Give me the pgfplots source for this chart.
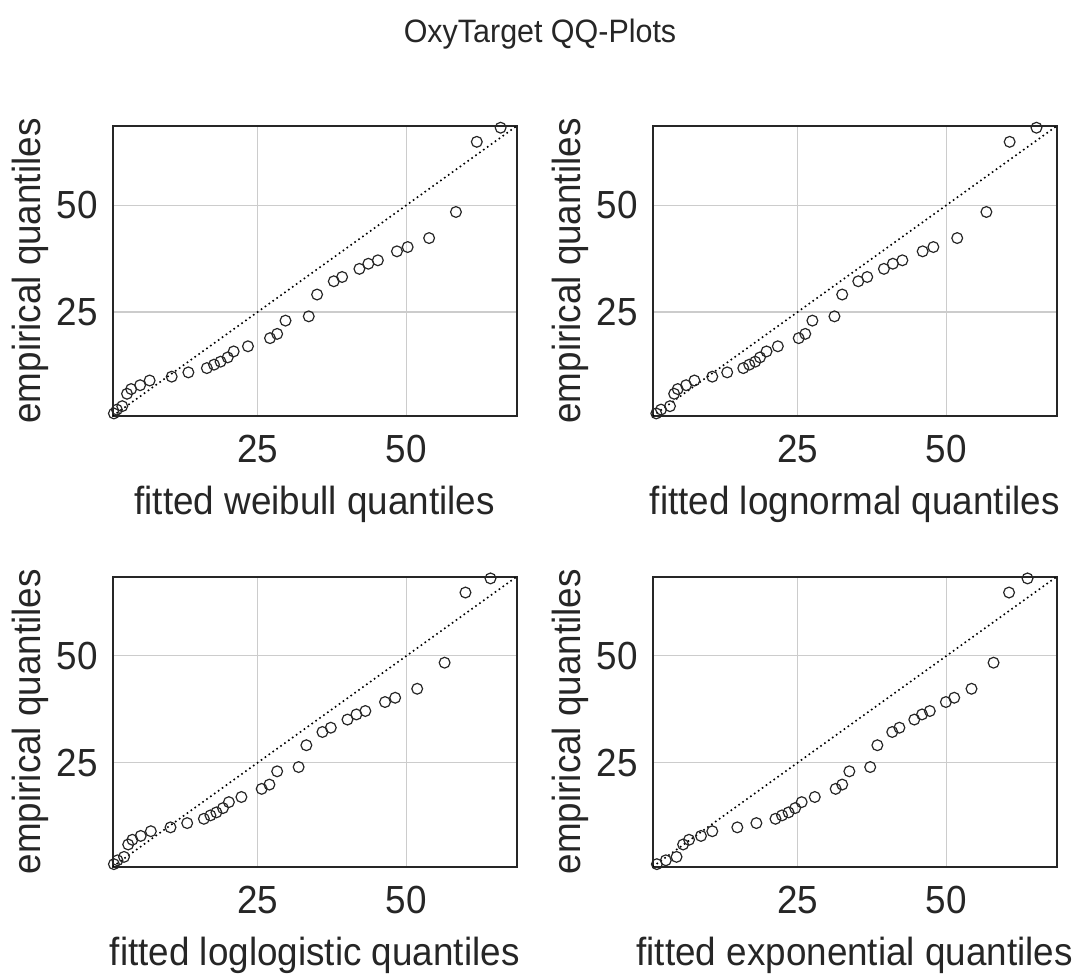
\documentclass[border=0pt]{standalone}
\usepackage{pgfplots}
\pgfplotsset{compat=1.18}
\usepackage{fontspec}
\setmainfont{Liberation Sans}[FakeStretch=0.94]
\definecolor{txt}{HTML}{262626}
\definecolor{grd}{HTML}{CCCCCC}
\pgfplotsset{qq/.style={
  scale only axis, width=202pt, height=145pt,
  xmin=0.7, xmax=68.5, ymin=0.7, ymax=68.5,
  xtick={25,50}, ytick={25,50},
  major tick length=0pt,
  grid=major, major grid style={grd, line width=0.6pt},
  axis line style={txt, line width=1.2pt},
  tick label style={font=\fontsize{19.6}{21}\selectfont, text=txt},
  label style={font=\fontsize{19.6}{21}\selectfont, text=txt},
  /pgf/number format/assume math mode=true,
  xticklabel style={yshift=-6pt},
  yticklabel style={xshift=-4pt},
  xlabel style={at={(axis description cs:0.5,-0.306)}, anchor=center},
  ylabel style={at={(axis description cs:-0.205,0.5)}, anchor=center},
  ylabel={empirical quantiles},
  anchor=south west,
},
pts/.style={only marks, mark=o, mark size=2.7pt, mark options={line width=0.6pt, draw=txt}},
ref/.style={no marks, black, line width=0.8pt, dash pattern=on 0.8pt off 1.6pt}
}
\pgfplotstableread{
x y
0.9 1.3
1.4 2.2
2.3 3.0
3.1 5.9
3.8 7.0
5.3 7.9
6.9 9.0
10.6 9.9
13.4 10.9
16.5 11.9
17.7 12.7
18.8 13.4
20.0 14.4
21.0 15.8
23.4 17.0
27.1 18.9
28.3 19.9
29.7 23.0
33.6 24.0
35.0 29.1
37.8 32.2
39.2 33.2
42.1 35.1
43.6 36.3
45.2 37.1
48.4 39.2
50.2 40.2
53.8 42.3
58.3 48.4
61.8 64.8
65.8 68.1
}\weib
\pgfplotstableread{
x y
1.3 1.3
2.1 2.2
3.6 3.0
4.3 5.9
4.9 7.0
6.3 7.9
7.7 9.0
10.7 9.9
13.2 10.9
15.9 11.9
16.9 12.7
17.9 13.4
18.7 14.4
19.8 15.8
21.7 17.0
25.2 18.9
26.3 19.9
27.5 23.0
31.2 24.0
32.5 29.1
35.2 32.2
36.7 33.2
39.5 35.1
41.0 36.3
42.6 37.1
46.0 39.2
47.8 40.2
51.8 42.3
56.7 48.4
60.6 64.8
65.1 68.1
}\lognorm
\pgfplotstableread{
x y
0.9 1.3
1.5 2.2
2.6 3.0
3.3 5.9
4.0 7.0
5.4 7.9
7.1 9.0
10.4 9.9
13.2 10.9
16.0 11.9
17.1 12.7
18.1 13.4
19.2 14.4
20.2 15.8
22.3 17.0
25.7 18.9
27.0 19.9
28.3 23.0
31.9 24.0
33.2 29.1
35.9 32.2
37.3 33.2
40.1 35.1
41.6 36.3
43.1 37.1
46.4 39.2
48.1 40.2
51.8 42.3
56.4 48.4
59.9 64.8
64.1 68.1
}\loglog
\pgfplotstableread{
x y
1.4 1.3
2.9 2.2
4.7 3.0
5.8 5.9
6.8 7.0
8.8 7.9
10.7 9.0
14.9 9.9
18.1 10.9
21.3 11.9
22.4 12.7
23.5 13.4
24.6 14.4
25.7 15.8
27.9 17.0
31.4 18.9
32.5 19.9
33.7 23.0
37.2 24.0
38.4 29.1
40.9 32.2
42.1 33.2
44.6 35.1
45.9 36.3
47.2 37.1
49.9 39.2
51.3 40.2
54.2 42.3
57.9 48.4
60.5 64.8
63.6 68.1
}\expo
\begin{document}
\begin{tikzpicture}
\useasboundingbox (0pt,0pt) rectangle (540pt,-487.5pt);
\node[font=\fontsize{16.2}{18}\selectfont, text=txt] at (270pt,-17pt) {OxyTarget QQ-Plots};
\begin{axis}[qq, at={(56.35pt,-208pt)}, xlabel={fitted weibull quantiles}]
\addplot[ref] coordinates {(0.7,0.7) (68.5,68.5)};
\addplot[pts] table[x=x,y=y] {\weib};
\end{axis}
\begin{axis}[qq, at={(326.35pt,-208pt)}, xlabel={fitted lognormal quantiles}]
\addplot[ref] coordinates {(0.7,0.7) (68.5,68.5)};
\addplot[pts] table[x=x,y=y] {\lognorm};
\end{axis}
\begin{axis}[qq, at={(56.35pt,-433.35pt)}, xlabel={fitted loglogistic quantiles}]
\addplot[ref] coordinates {(0.7,0.7) (68.5,68.5)};
\addplot[pts] table[x=x,y=y] {\loglog};
\end{axis}
\begin{axis}[qq, at={(326.35pt,-433.35pt)}, xlabel={fitted exponential quantiles}]
\addplot[ref] coordinates {(0.7,0.7) (68.5,68.5)};
\addplot[pts] table[x=x,y=y] {\expo};
\end{axis}
\end{tikzpicture}
\end{document}
